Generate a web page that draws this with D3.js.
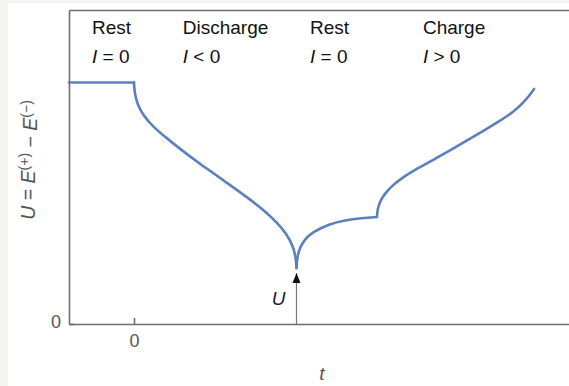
<!DOCTYPE html>
<html>
<head>
<meta charset="utf-8">
<script src="https://cdn.jsdelivr.net/npm/d3@7/dist/d3.min.js"></script>
<style>
  body { margin: 0; background: #fff; }
  svg { display: block; font-family: "Liberation Sans", Arial, Helvetica, sans-serif; }
</style>
</head>
<body>
<div id="chart"></div>
<script>
// cell voltage U (arbitrary units) vs time t
const restData = [[-0.4, 1.0], [0, 1.0]];
const dischargeData = [
  [0, 1.0], [0.003, 0.96], [0.02, 0.91], [0.06, 0.86], [0.12, 0.815], [0.2, 0.77],
  [0.3, 0.716], [0.4, 0.666], [0.5, 0.619], [0.6, 0.571], [0.7, 0.523],
  [0.8, 0.470], [0.88, 0.420], [0.94, 0.372], [0.98, 0.320], [0.996, 0.275], [1.0, 0.232]
];
const rest2Data = [
  [1.0, 0.232], [1.004, 0.275], [1.02, 0.315], [1.05, 0.350], [1.1, 0.381], [1.2, 0.414],
  [1.3, 0.430], [1.4, 0.438], [1.495, 0.443]
];
const chargeData = [
  [1.495, 0.443], [1.499, 0.475], [1.512, 0.505], [1.54, 0.537], [1.59, 0.574],
  [1.66, 0.610], [1.75, 0.646], [1.85, 0.683], [1.95, 0.720], [2.05, 0.760],
  [2.15, 0.800], [2.25, 0.840], [2.34, 0.880], [2.41, 0.925], [2.462, 0.973]
];
const phaseNames = ["Rest", "Discharge", "Rest", "Charge"];
const phaseSigns = ["=", "<", "=", ">"];
const xTicks = [0];
const yTicks = [0];
const arrowAt = [1.0, 0.211];

const width = 569, height = 386;
const svg = d3.select("#chart").append("svg")
  .attr("width", width).attr("height", height);

// light frame of the page
svg.append("rect").attr("x", 0).attr("y", 0).attr("width", 8).attr("height", height).attr("fill", "#f4f4f0");
svg.append("rect").attr("x", 0).attr("y", 0).attr("width", width).attr("height", 3).attr("fill", "#f4f4f0");

const x = d3.scaleLinear().domain([-0.4, 2.677]).range([69, 569]);
const y = d3.scaleLinear().domain([0, 1.3]).range([324, 10]);

const axisColor = "#6e6e6e";

// x axis
const gx = svg.append("g")
  .attr("transform", "translate(0," + y(0) + ")")
  .call(d3.axisBottom(x).tickValues(xTicks).tickFormat(d3.format("d"))
    .tickSizeInner(-6).tickSizeOuter(0).tickPadding(10));
// y axis
const gy = svg.append("g")
  .attr("transform", "translate(" + x(-0.4) + ",0)")
  .call(d3.axisLeft(y).tickValues(yTicks).tickFormat(d3.format("d"))
    .tickSizeInner(-5).tickSizeOuter(0).tickPadding(8));
// top frame line
const gt = svg.append("g")
  .attr("transform", "translate(0," + y(1.3) + ")")
  .call(d3.axisTop(x).tickValues([]).tickSizeOuter(0));

[gx, gy, gt].forEach(g => {
  g.select(".domain").attr("stroke", axisColor).attr("stroke-width", 1.6);
  g.selectAll(".tick line").attr("stroke", axisColor).attr("stroke-width", 1.6);
  g.selectAll(".tick text").attr("fill", "#555").style("font-size", "18px")
    .style("font-family", "'Liberation Sans', Arial, sans-serif");
});
gy.selectAll(".tick text").attr("dy", "0.2em");

// axis titles
svg.append("text")
  .attr("x", x(1.157)).attr("y", 380)
  .attr("text-anchor", "middle")
  .style("font-size", "19px").style("font-style", "italic")
  .attr("fill", "#555")
  .text("t");

const yl = svg.append("text")
  .attr("transform", "translate(35,160) rotate(-90)")
  .attr("text-anchor", "middle")
  .style("font-size", "19.5px")
  .attr("fill", "#555");
yl.append("tspan").style("font-style", "italic").text("U");
yl.append("tspan").text(" = ");
yl.append("tspan").style("font-style", "italic").text("E");
yl.append("tspan").attr("dy", "-0.45em").style("font-size", "14px").text("(+)");
yl.append("tspan").attr("dy", "0.45em").text(" \u2212 ");
yl.append("tspan").style("font-style", "italic").text("E");
yl.append("tspan").attr("dy", "-0.45em").style("font-size", "14px").text("(\u2212)");

// phase labels
const labelT = [-0.258, 0.30, 1.083, 1.778];
phaseNames.forEach((name, i) => {
  svg.append("text")
    .attr("x", x(labelT[i])).attr("y", 34)
    .style("font-size", "19px").attr("fill", "#111")
    .text(name);
  const t = svg.append("text")
    .attr("x", x(labelT[i])).attr("y", 63)
    .style("font-size", "19px").attr("fill", "#111");
  t.append("tspan").style("font-style", "italic").text("I");
  t.append("tspan").text(" " + phaseSigns[i] + " 0");
});

// voltage curve
const line = d3.line()
  .x(d => x(d[0])).y(d => y(d[1]))
  .curve(d3.curveBasis);
[restData, dischargeData, rest2Data, chargeData].forEach(seg => {
  svg.append("path")
    .datum(seg)
    .attr("d", line)
    .attr("fill", "none")
    .attr("stroke", "#5b80bd")
    .attr("stroke-width", 2.6)
    .attr("stroke-linecap", "round")
    .attr("stroke-linejoin", "round");
});

// arrow marking U
svg.append("defs").append("marker")
  .attr("id", "head")
  .attr("viewBox", "0 0 10 10")
  .attr("refX", 10).attr("refY", 5)
  .attr("markerWidth", 10).attr("markerHeight", 10)
  .attr("markerUnits", "userSpaceOnUse")
  .attr("orient", "auto")
  .append("path").attr("d", "M0,1 L10,5 L0,9 Z").attr("fill", "#111");

svg.append("line")
  .attr("x1", x(arrowAt[0])).attr("y1", y(0))
  .attr("x2", x(arrowAt[0])).attr("y2", y(arrowAt[1]))
  .attr("stroke", "#777").attr("stroke-width", 1.2)
  .attr("marker-end", "url(#head)");

svg.append("text")
  .attr("x", x(arrowAt[0]) - 11).attr("y", 305)
  .attr("text-anchor", "end")
  .style("font-size", "19px").style("font-style", "italic")
  .attr("fill", "#1c1c3a")
  .text("U");
</script>
</body>
</html>
